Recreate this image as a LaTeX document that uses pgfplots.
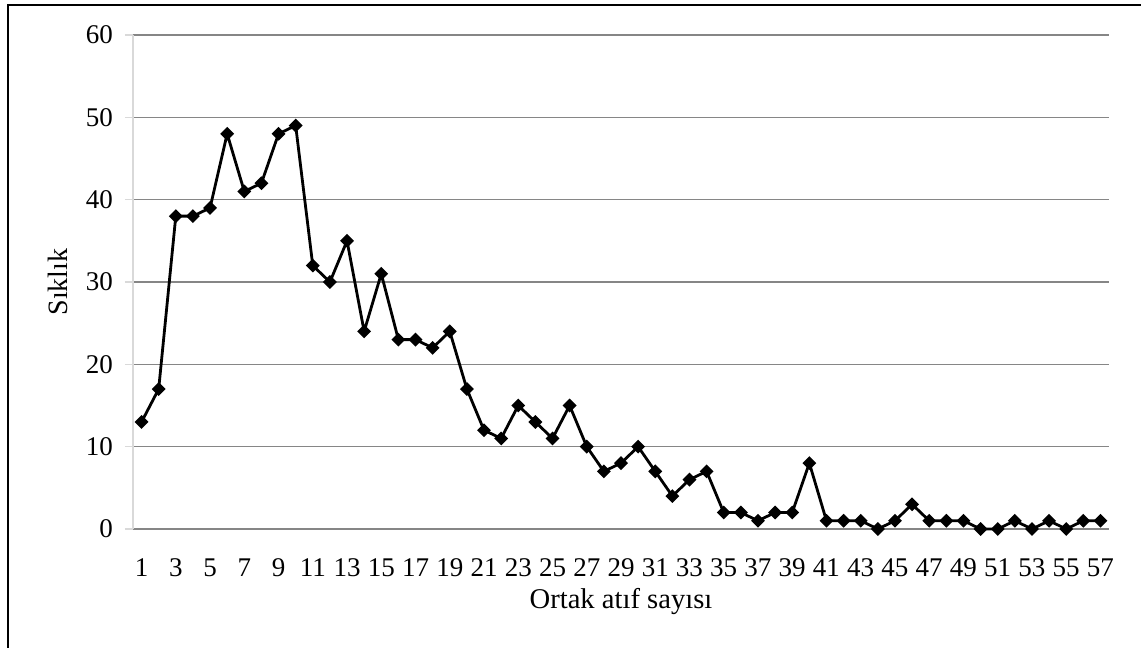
\documentclass[border=0pt]{standalone}
\usepackage{pgfplots}
\pgfplotsset{compat=1.18}
\usepackage{fontspec}
\setmainfont{Liberation Serif}
\definecolor{gridgray}{RGB}{134,134,134}
\definecolor{axlight}{RGB}{217,217,217}
\begin{document}
\begin{tikzpicture}
\path[use as bounding box] (-66.5pt,-59.5pt) rectangle (504pt,264.5pt);
\draw[black, line width=1pt] (-62.5pt,-90pt) rectangle (530pt,262pt);
\begin{axis}[
  scale only axis,
  width=488pt, height=247pt,
  xmin=0.5, xmax=57.5, ymin=0, ymax=60,
  axis x line=bottom, axis y line=left,
  x axis line style={draw=gridgray, line width=0.75pt, -},
  y axis line style={draw=axlight, line width=0.7pt, -},
  xtick={1,3,...,57},
  ytick={0,10,...,60},
  xtick style={draw=none},
  ytick style={draw=axlight, line width=0.7pt},
  tick align=outside,
  major tick length=4pt,
  ymajorgrids,
  grid style={draw=gridgray, line width=0.75pt},
  font=\fontsize{13.5}{16}\selectfont,
  tick label style={font=\fontsize{13.5}{16}\selectfont},
  /pgf/number format/assume math mode=true,
  every x tick label/.style={anchor=center, inner sep=0pt, yshift=-15.5pt},
  yticklabel shift=2.5pt,
  xlabel={Ortak atıf sayısı},
  ylabel={Sıklık},
  every axis x label/.style={at={(axis description cs:0.5,-0.16)}, anchor=base, inner sep=0pt, font=\fontsize{14.3}{17}\selectfont},
  every axis y label/.style={at={(axis description cs:-0.0768,0.5)}, rotate=90, anchor=center, font=\fontsize{14}{17}\selectfont},
  clip=false,
]
\addplot[black, line width=1.4pt, mark=square*, mark size=1.75pt, mark options={rotate=45, solid, fill=black}] coordinates {
(1,13) (2,17) (3,38) (4,38) (5,39) (6,48) (7,41) (8,42) (9,48) (10,49)
(11,32) (12,30) (13,35) (14,24) (15,31) (16,23) (17,23) (18,22) (19,24) (20,17)
(21,12) (22,11) (23,15) (24,13) (25,11) (26,15) (27,10) (28,7) (29,8) (30,10)
(31,7) (32,4) (33,6) (34,7) (35,2) (36,2) (37,1) (38,2) (39,2) (40,8)
(41,1) (42,1) (43,1) (44,0) (45,1) (46,3) (47,1) (48,1) (49,1) (50,0)
(51,0) (52,1) (53,0) (54,1) (55,0) (56,1) (57,1)
};
\end{axis}
\end{tikzpicture}
\end{document}
